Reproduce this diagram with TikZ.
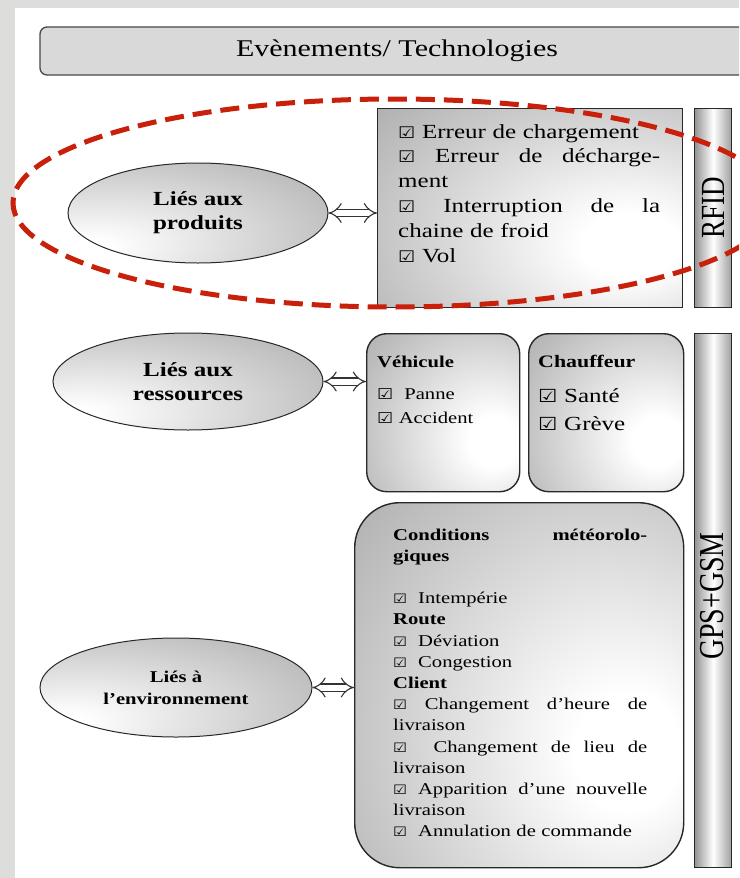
\documentclass[tikz,border=0pt]{standalone}
\usepackage{fontspec}
\usepackage{graphicx}
\setmainfont{Liberation Serif}[FakeStretch=1.25]
\newfontfamily\plainserif{Liberation Serif}
\newfontfamily\symf{DejaVu Sans}[FakeStretch=1.2]
\usetikzlibrary{shapes.geometric,arrows.meta}
\definecolor{bggrey}{RGB}{221,221,219}
\definecolor{dashred}{RGB}{200,32,10}
\definecolor{titlefill}{RGB}{217,217,217}
\definecolor{edgecol}{RGB}{40,40,40}
\pgfdeclareradialshading{boxshade}{\pgfpoint{18bp}{-10bp}}{color(0bp)=(white); color(8bp)=(white); color(60bp)=(black!42); color(100bp)=(black!48)}
\pgfdeclareradialshading{ellshade}{\pgfpoint{-22bp}{-18bp}}{color(0bp)=(white); color(4bp)=(white); color(55bp)=(black!35); color(100bp)=(black!40)}
\newcommand\ck[1]{{\symf\fontsize{#1}{#1}\selectfont ☑}}
\newcommand\bck[1]{{\symf\bfseries\fontsize{#1}{#1}\selectfont ☑}}
\newcommand\jline[1]{{\spaceskip=0pt\xspaceskip=0pt\makebox[\hsize][s]{#1}}}
\begin{document}
\begin{tikzpicture}[x=1pt,y=-1pt,
  titlebox/.style={draw=edgecol!85, line width=1.3pt, fill=titlefill, rounded corners=7pt},
  ellnode/.style={ellipse, draw=edgecol, line width=1pt, shading=ellshade, inner sep=0pt, align=center, font=\bfseries\fontsize{20}{24}\selectfont},
  sqbox/.style={draw=edgecol, line width=1.4pt, shading=boxshade, anchor=north west, inner sep=0pt},
  rbox/.style={sqbox, rounded corners=20pt},
  strip/.style={draw=edgecol, line width=1.4pt, left color=black!42, right color=black!38, middle color=white, anchor=north west, inner sep=0pt},
  txt/.style={anchor=base west, inner sep=0pt, align=left},
  dblarrow/.style={double=white, double distance=6pt, line width=1.1pt, draw=black!80, {Implies[scale=1.45]}-{Implies[scale=1.45]}},
  redring/.style={draw=dashred, line width=5pt, dash pattern=on 19pt off 9pt}
]
\clip (0,0) rectangle (739,878);
\fill[bggrey] (0,0) rectangle (739,878);
\fill[white] (15,8) rectangle (739,878);

% title
\node[titlebox, minimum width=714pt, minimum height=48pt, font=\fontsize{24}{24}\selectfont] (title) at (397,51) {Evènements/ Technologies};

% ellipses
\node[ellnode, minimum width=260pt, minimum height=100pt] (prod) at (198,213) {Liés aux\\produits};
\node[ellnode, minimum width=270pt, minimum height=97pt] (ress) at (188,381.5) {Liés aux\\ressources};
\node[ellnode, minimum width=272pt, minimum height=99pt, font=\bfseries\fontsize{16.5}{22}\selectfont] (env) at (176,687.5) {Liés à\\l’environnement};

% boxes
\node[sqbox, minimum width=305pt, minimum height=199pt] (pbox) at (377,108) {};
\node[rbox, minimum width=153pt, minimum height=158pt] (vbox) at (366,333) {};
\node[rbox, minimum width=155pt, minimum height=158pt] (cbox) at (528,333) {};
\node[rbox, rounded corners=45pt, minimum width=329pt, minimum height=365pt] (ebox) at (354,502) {};

% strips
\node[strip, minimum width=37pt, minimum height=199pt] (rfid) at (694,108) {};
\node[strip, minimum width=37pt, minimum height=534pt] (gps) at (694,333) {};
\node[rotate=90, inner sep=0pt] (rfidlbl) at (rfid.center) {\scalebox{1}[1.25]{\plainserif\fontsize{27}{27}\selectfont RFID}};
\node[rotate=90, inner sep=0pt] (gpslbl) at (712.5,596) {\scalebox{1}[1.25]{\plainserif\fontsize{28}{28}\selectfont GPS+GSM}};

% arrows
\draw[dblarrow] (prod.east) -- (prod.east -| pbox.west);
\draw[dblarrow] (ress.east) -- (ress.east -| vbox.west);
\draw[dblarrow] (env.east) -- (env.east -| ebox.west);

% product text
\node[txt, text width=262pt, font=\fontsize{20}{24.8}\selectfont] (ptext) at (398,138) {%
\ck{16} Erreur de chargement\\
\jline{\ck{16} Erreur de décharge-}\\
ment\\
\jline{\ck{16} Interruption de la}\\
chaine de froid\\
\ck{16} Vol};

% vehicule text
\node[txt, text width=140pt, font=\fontsize{16.5}{24}\selectfont] (vtext) at (377,367) {%
\textbf{Véhicule}\\[8pt]
\bck{15}\ \ Panne\\
\bck{15} Accident};

% chauffeur text
\node[txt, text width=140pt, font=\fontsize{20}{28}\selectfont] (ctext) at (538,367) {%
{\bfseries\fontsize{17.5}{17.5}\selectfont Chauffeur}\\[7pt]
\ck{18} Santé\\
\ck{18} Grève};

% environment text
\node[txt, text width=254pt, font=\fontsize{16.5}{21.2}\selectfont] (etext) at (393,540) {%
\jline{\bfseries Conditions météorolo-}\\
\textbf{giques}\\
\mbox{}\\
\ck{13}\ \ Intempérie\\
\textbf{Route}\\
\ck{13}\ \ Déviation\\
\ck{13}\ \ Congestion\\
\textbf{Client}\\
\jline{\ck{13} Changement d’heure de}\\
livraison\\
\jline{\ck{13} \ Changement de lieu de}\\
livraison\\
\jline{\ck{13} Apparition d’une nouvelle}\\
livraison\\
\ck{13}\ \ Annulation de commande};

% red dashed ring
\draw[redring] (394,203) ellipse [x radius=381, y radius=104];
\end{tikzpicture}
\end{document}
